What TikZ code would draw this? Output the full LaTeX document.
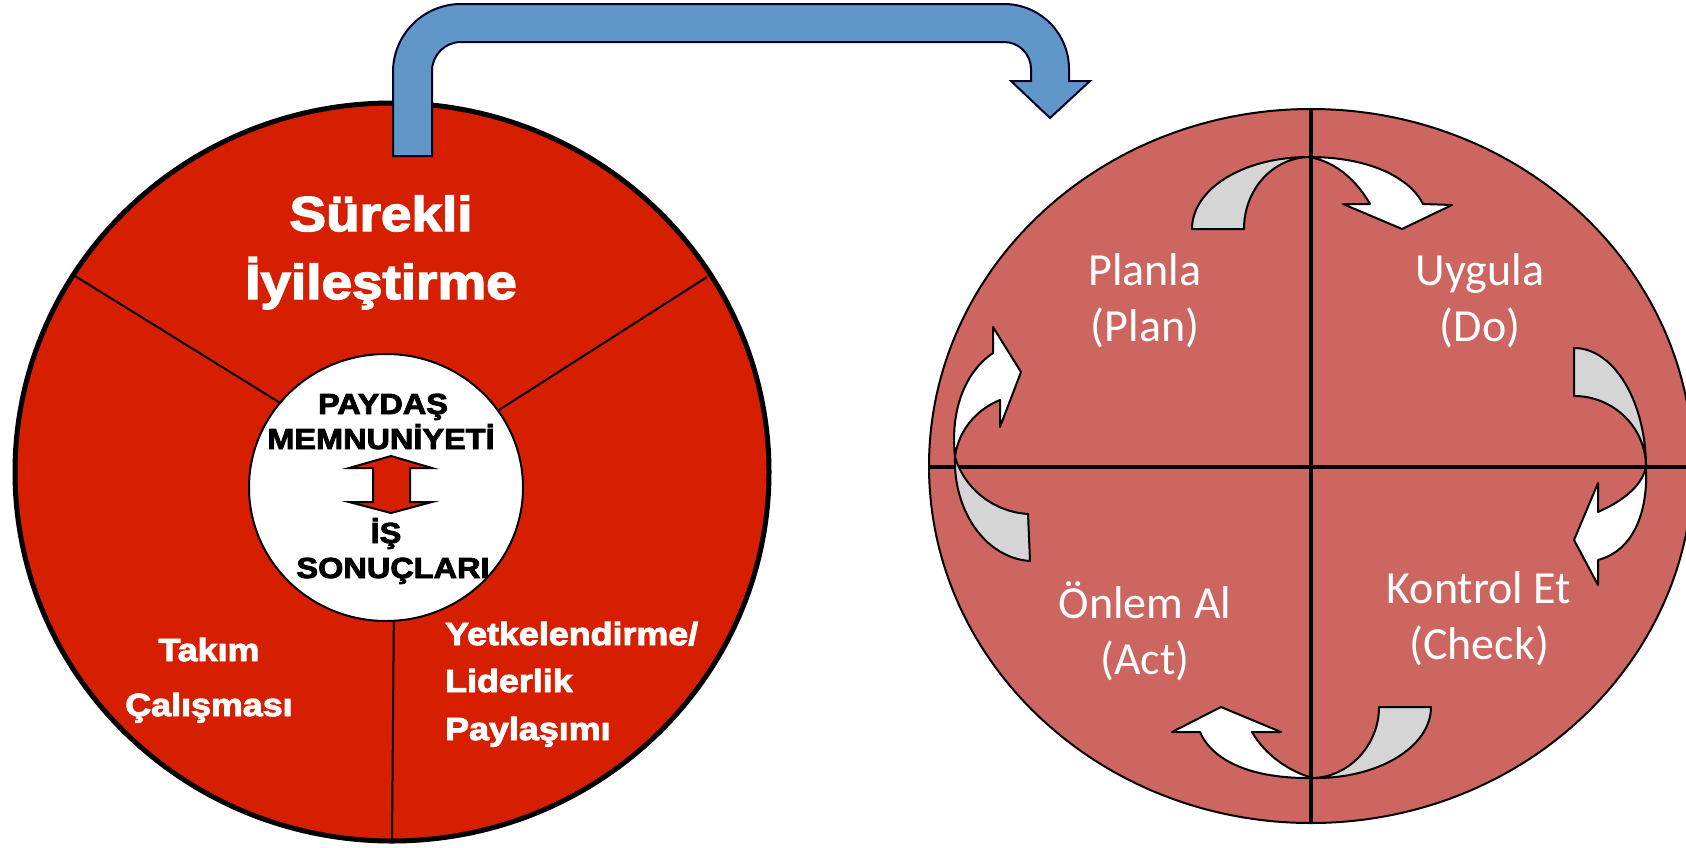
\documentclass[tikz,border=0pt]{standalone}
\usepackage{fontspec}
\newfontfamily\blkfont[FakeStretch=1.12,FakeBold=3]{Liberation Sans Bold}
\newfontfamily\calfont{Carlito}
\definecolor{lred}{RGB}{213,31,0}
\definecolor{pdca}{RGB}{205,102,97}
\definecolor{blu}{RGB}{97,150,201}
\definecolor{gry}{RGB}{213,213,213}
\tikzset{
  arr/.style={draw=black, line width=2pt, line join=round},
  ttl/.style={anchor=base, inner sep=0pt, text=white, font=\blkfont\fontsize{49}{49}\selectfont},
  ctr/.style={anchor=base, inner sep=0pt, text=black, font=\blkfont\fontsize{29}{29}\selectfont},
  sml/.style={anchor=base, inner sep=0pt, text=white, font=\blkfont\fontsize{32}{32}\selectfont},
  pd/.style={anchor=base, inner sep=0pt, text=white, font=\calfont\fontsize{46}{46}\selectfont},
}
\begin{document}
\begin{tikzpicture}[x=1pt,y=-1pt]
\useasboundingbox (0,0) rectangle (1686,847);
\clip (0,0) rectangle (1686,847);
% left circle
\draw[line width=5pt, fill=lred] (392,472) ellipse [x radius=377, y radius=369];
\draw[line width=2pt] (75,276) -- (290,409);
\draw[line width=2pt] (707,277) -- (488,417);
\draw[line width=2pt] (394,600) -- (392,840);
\draw[line width=2pt, fill=white] (386,487.5) ellipse [x radius=137, y radius=133.5];
\draw[fill=lred, line width=2pt, line join=miter] (391,456) -- (432,468) -- (410,468) -- (410,502) -- (432,502) -- (391,513) -- (349,502) -- (373,502) -- (373,468) -- (349,468) -- cycle;
% blue arrow
\draw[fill=blu, draw=black!85!blue, line width=2pt] (393,156) -- (393,72) arc[start angle=180,end angle=270,radius=68] -- (1004,4) arc[start angle=270,end angle=360,radius=65] -- (1069,81) -- (1090,81) -- (1050,118) -- (1011,81) -- (1031,81) -- (1031,69) arc[start angle=0,end angle=-90,radius=27] -- (461,42) arc[start angle=270,end angle=180,radius=29] -- (432,156) -- cycle;
% texts left
\node[ttl] (s1) at (381,231) {Sürekli};
\node[ttl] (s2) at (381,299) {İyileştirme};
\node[ctr] (c1) at (383,414) {PAYDAŞ};
\node[ctr] (c2) at (381,449) {MEMNUNİYETİ};
\node[ctr] (c3) at (386,543) {İŞ};
\node[ctr] (c4) at (393,578) {SONUÇLARI};
\node[sml] (k1) at (209,661) {Takım};
\node[sml] (k2) at (209,716) {Çalışması};
\node[sml, anchor=base west] (y1) at (445,645) {Yetkelendirme/};
\node[sml, anchor=base west] (y2) at (445,692) {Liderlik};
\node[sml, anchor=base west] (y3) at (445,740) {Paylaşımı};
% right ellipse
\draw[fill=pdca, line width=2pt] (1311,466) ellipse [x radius=382, y radius=357];
\draw[line width=3.5pt] (1311,109) -- (1311,823);
\draw[line width=3.5pt] (929,467) -- (1686,467);
% top pair
\draw[arr, fill=gry] (1192,229) -- (1244,229) .. controls (1244,190) and (1272,158) .. (1309,157) .. controls (1243,157) and (1192,189) .. cycle;
\draw[arr, fill=white] (1309,157) .. controls (1370,157) and (1410,178) .. (1423,204) -- (1452,205) -- (1402,229) -- (1343,204) -- (1370,204) .. controls (1358,183) and (1338,162) .. cycle;
% right pair
\draw[arr, fill=gry] (1574,348) -- (1574,396) .. controls (1614,396) and (1646,428) .. (1646,467) .. controls (1646,402) and (1614,348) .. cycle;
\draw[arr, fill=white] (1646,467) .. controls (1648,510) and (1635,550) .. (1598,560) -- (1598,585) -- (1574,540) -- (1598,483) -- (1598,512) .. controls (1625,500) and (1642,485) .. cycle;
% bottom pair
\draw[arr, fill=gry] (1431,707) -- (1379,707) .. controls (1379,745) and (1349,777) .. (1313,778) .. controls (1378,779) and (1431,747) .. cycle;
\draw[arr, fill=white] (1313,778) .. controls (1250,779) and (1212,760) .. (1200,732) -- (1172,732) -- (1221,707) -- (1281,732) -- (1252,732) .. controls (1265,755) and (1290,772) .. cycle;
% left pair
\draw[arr, fill=gry] (1030,561) -- (1028,514) .. controls (995,512) and (965,490) .. (955,457) .. controls (953,510) and (985,558) .. cycle;
\draw[arr, fill=white] (955,457) .. controls (950,410) and (965,372) .. (993,353) -- (993,327) -- (1021,372) -- (1000,427) -- (1000,400) .. controls (975,410) and (958,432) .. cycle;
% texts right
\node[pd] (p1) at (1145,285) {Planla};
\node[pd] (p2) at (1145,341) {(Plan)};
\node[pd] (u1) at (1480,285) {Uygula};
\node[pd] (u2) at (1480,341) {(Do)};
\node[pd] (e1) at (1479,603) {Kontrol Et};
\node[pd] (e2) at (1479,659) {(Check)};
\node[pd] (a1) at (1145,618) {Önlem Al};
\node[pd] (a2) at (1145,674) {(Act)};
\end{tikzpicture}
\end{document}
